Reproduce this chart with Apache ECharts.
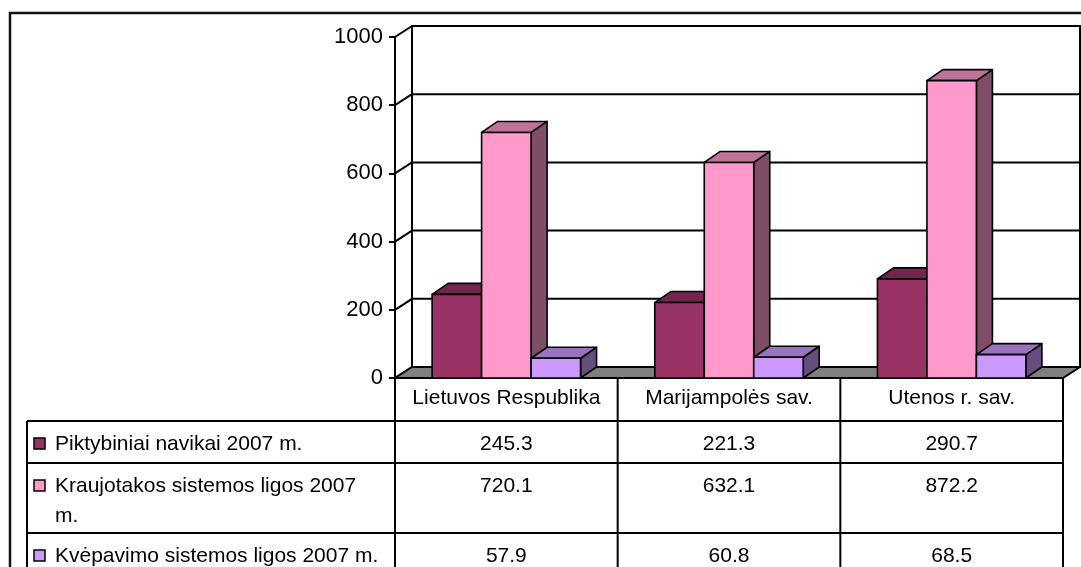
<!DOCTYPE html>
<html>
<head>
<meta charset="utf-8">
<script src="https://cdn.jsdelivr.net/npm/echarts@6/dist/echarts.min.js"></script>
<style>
  html, body { margin: 0; padding: 0; background: #fff; }
  #chart { width: 1081px; height: 567px; }
</style>
</head>
<body>
<div id="chart"></div>
<script>
// Categories, series and values
const categories = ['Lietuvos Respublika', 'Marijampolės sav.', 'Utenos r. sav.'];
const seriesNames = ['Piktybiniai navikai 2007 m.', 'Kraujotakos sistemos ligos 2007 m.', 'Kvėpavimo sistemos ligos 2007 m.'];
// Row headings of the data table, as they wrap in their cells
const rowLabels = ['Piktybiniai navikai 2007 m.', 'Kraujotakos sistemos ligos 2007\nm.', 'Kvėpavimo sistemos ligos 2007 m.'];
const piktybiniai = [245.3, 221.3, 290.7];
const kraujotakos = [720.1, 632.1, 872.2];
const kvepavimo = [57.9, 60.8, 68.5];
const yTicks = [0, 200, 400, 600, 800, 1000];

const seriesValues = [piktybiniai, kraujotakos, kvepavimo];

// 3D face colours: front, top, side
const frontColors = ['#993366', '#FF99CC', '#CC99FF'];
const topColors = ['#73264D', '#BF7399', '#9973BF'];
const sideColors = ['#4D1A33', '#804D66', '#664D80'];

const FONT = '"Liberation Sans", Arial, sans-serif';
const FONT_SIZE = 21;
const DX = 17, DY = -11;     // depth of walls and floor
const BDX = 16, BDY = -11;   // depth of the columns
const GAP = 1.5;             // gap between clusters, in column widths

const chart = echarts.init(document.getElementById('chart'), null, { renderer: 'canvas' });

function frameRender(params, api) {
  const band = api.size([1, 0])[0];
  const L = api.coord([0, 0])[0] - band / 2;
  const R = L + band * categories.length;
  const y = v => api.coord([0, v])[1];
  const yMax = yTicks[yTicks.length - 1];
  const children = [];
  // back wall
  children.push({
    type: 'polygon',
    shape: { points: [[L + DX, y(yMax) + DY], [R + DX, y(yMax) + DY], [R + DX, y(0) + DY], [L + DX, y(0) + DY]] },
    style: { fill: '#fff', stroke: '#000', lineWidth: 2 }
  });
  // gridlines on the wall and diagonals on the side wall
  yTicks.forEach(v => {
    if (v > 0) {
      children.push({
        type: 'line',
        shape: { x1: L + DX, y1: y(v) + DY, x2: R + DX, y2: y(v) + DY },
        style: { stroke: '#000', lineWidth: 2 }
      });
    }
    children.push({
      type: 'line',
      shape: { x1: L, y1: y(v), x2: L + DX, y2: y(v) + DY },
      style: { stroke: '#000', lineWidth: 2 }
    });
  });
  // floor
  children.push({
    type: 'polygon',
    shape: { points: [[L, y(0)], [R, y(0)], [R + DX, y(0) + DY], [L + DX, y(0) + DY]] },
    style: { fill: '#808080', stroke: '#000', lineWidth: 2 }
  });
  return { type: 'group', children: children };
}

function barRender(slot) {
  return function (params, api) {
    const idx = api.value(0);
    const val = api.value(1);
    const band = api.size([1, 0])[0];
    const bw = band / (seriesValues.length + GAP);
    const base = api.coord([idx, 0]);
    const top = api.coord([idx, val]);
    const x0 = base[0] - bw * seriesValues.length / 2 + slot * bw;
    const x1 = x0 + bw;
    const yb = base[1], yt = top[1];
    const stroke = { stroke: '#000', lineWidth: 1.6, lineJoin: 'round' };
    return {
      type: 'group',
      children: [
        {
          type: 'polygon',
          shape: { points: [[x1, yt], [x1 + BDX, yt + BDY], [x1 + BDX, yb + BDY], [x1, yb]] },
          style: Object.assign({ fill: sideColors[slot] }, stroke)
        },
        {
          type: 'polygon',
          shape: { points: [[x0, yt], [x1, yt], [x1 + BDX, yt + BDY], [x0 + BDX, yt + BDY]] },
          style: Object.assign({ fill: topColors[slot] }, stroke)
        },
        {
          type: 'rect',
          shape: { x: x0, y: yt, width: bw, height: yb - yt },
          style: Object.assign({ fill: frontColors[slot] }, stroke)
        }
      ]
    };
  };
}

const series = [{
  type: 'custom',
  name: 'frame',
  silent: true,
  data: [[0, 0]],
  encode: { x: 0, y: 1 },
  renderItem: frameRender,
  z: 1
}];
seriesValues.forEach((vals, s) => {
  series.push({
    type: 'custom',
    name: seriesNames[s],
    data: vals.map((v, i) => [i, v]),
    encode: { x: 0, y: 1 },
    renderItem: barRender(s),
    z: 2
  });
});

chart.setOption({
  animation: false,
  backgroundColor: '#fff',
  grid: { left: 395, right: 18, top: 37, bottom: 189 },
  xAxis: {
    type: 'category',
    data: categories,
    boundaryGap: true,
    axisLine: { show: false },
    axisTick: { show: false },
    axisLabel: { show: false },
    splitLine: { show: false }
  },
  yAxis: {
    type: 'value',
    min: 0,
    max: 1000,
    interval: 200,
    axisLine: { show: true, lineStyle: { color: '#000', width: 2 } },
    axisTick: { show: true, length: 6, lineStyle: { color: '#000', width: 2 } },
    axisLabel: { color: '#000', fontFamily: FONT, fontSize: 22, margin: 12, formatter: v => String(v) },
    splitLine: { show: false },
    z: 3
  },
  series: series
});

// Data table below the plot
const HEADER_TOP = 378;
const ROW_TOPS = [421, 463, 533];
const TABLE_LEFT = 27;
const TABLE_BOTTOM = 620;
const NAME_X = 55;
const KEY_X = 34;

const colX = categories.map((c, i) => chart.convertToPixel({ gridIndex: 0 }, [i, 0])[0]);
const band = colX.length > 1 ? colX[1] - colX[0] : 222;
const TL = colX[0] - band / 2;
const TR = TL + band * categories.length;

const graphic = [];
const line = (x1, y1, x2, y2) => graphic.push({
  type: 'line', z: 10, shape: { x1, y1, x2, y2 }, style: { stroke: '#000', lineWidth: 2 }
});

// outer chart border
graphic.push({
  type: 'rect', z: 0, shape: { x: 10, y: 13, width: 1200, height: 700 },
  style: { fill: null, stroke: '#111', lineWidth: 2.5 }
});

ROW_TOPS.forEach(t => line(TABLE_LEFT, t, TR, t));
line(TABLE_LEFT, ROW_TOPS[0], TABLE_LEFT, TABLE_BOTTOM);
for (let i = 0; i <= categories.length; i++) {
  line(TL + band * i, HEADER_TOP, TL + band * i, TABLE_BOTTOM);
}

categories.forEach((c, i) => {
  graphic.push({
    type: 'text', z: 11,
    style: { x: colX[i], y: HEADER_TOP + 20, text: c, fill: '#000', font: FONT_SIZE + 'px ' + FONT, textAlign: 'center', textVerticalAlign: 'middle' }
  });
});

rowLabels.forEach((label, s) => {
  const top = ROW_TOPS[s];
  graphic.push({
    type: 'rect', z: 11,
    shape: { x: KEY_X, y: top + 17, width: 11, height: 11 },
    style: { fill: frontColors[s], stroke: '#000', lineWidth: 1.5 }
  });
  graphic.push({
    type: 'text', z: 11,
    style: {
      x: NAME_X, y: top + 8, text: label, fill: '#000',
      fontFamily: FONT, fontSize: FONT_SIZE, lineHeight: 30,
      align: 'left', verticalAlign: 'top'
    }
  });
  seriesValues[s].forEach((v, i) => {
    graphic.push({
      type: 'text', z: 11,
      style: {
        x: colX[i], y: top + 8, text: v.toFixed(1), fill: '#000',
        fontFamily: FONT, fontSize: FONT_SIZE, lineHeight: 30,
        align: 'center', verticalAlign: 'top'
      }
    });
  });
});

chart.setOption({ graphic: graphic });
</script>
</body>
</html>
